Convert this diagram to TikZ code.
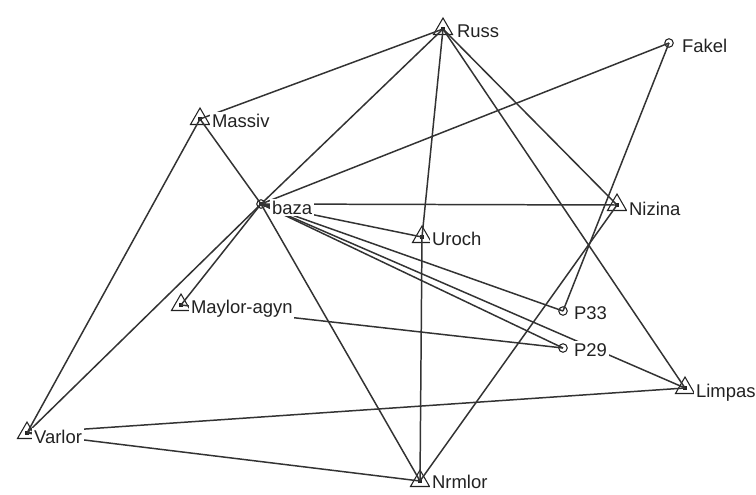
\documentclass[tikz,border=0pt]{standalone}
\usepackage{fontspec}
\setmainfont{Liberation Sans}
\definecolor{grInk}{HTML}{222222}
\definecolor{grLine}{HTML}{333333}
\usetikzlibrary{shapes.geometric}

\begin{document}
\begin{tikzpicture}[
  x=0.02cm,y=0.02cm,
  font=\fontsize{10.5}{12}\selectfont,
  tri/.style={draw=grInk,line width=0.6pt,regular polygon,regular polygon sides=3,
              inner sep=0pt,minimum size=4.4mm},
  ring/.style={draw=grInk,line width=0.6pt,circle,inner sep=0pt,minimum size=1.7mm},
  link/.style={draw=grLine,line width=0.85pt},
  tag/.style={anchor=base west,fill=white,inner sep=1pt,text=grInk}
]
\useasboundingbox (0,0) rectangle (756,-494);
% sites
\node[tri] (russ) at (443,-29) {};
\node[ring] (fakel) at (669,-43) {};
\node[tri] (massiv) at (200,-119) {};
\node[ring] (baza) at (261,-204) {};
\node[tri] (nizina) at (617,-205) {};
\node[tri] (uroch) at (422,-237) {};
\node[tri] (maylor) at (181,-305) {};
\node[ring] (p33) at (563,-311) {};
\node[ring] (p29) at (563,-348) {};
\node[tri] (limpas) at (685,-388) {};
\node[tri] (varlor) at (27,-433) {};
\node[tri] (nrmlor) at (420,-481) {};
\foreach \s in {russ,massiv,baza,nizina,uroch,maylor,limpas,varlor,nrmlor}
  \fill[grInk] (\s.center) +(-1.7,-1.7) rectangle +(1.7,1.7);

% links
\draw[link] (russ.center) -- (massiv.center);
\draw[link] (russ.center) -- (baza.center);
\draw[link] (russ.center) -- (uroch.center);
\draw[link] (russ.center) -- (nizina.center);
\draw[link] (russ.center) -- (limpas.center);
\draw[link] (massiv.center) -- (varlor.center);
\draw[link] (massiv.center) -- (baza.center);
\draw[link] (baza.center) -- (nrmlor.center);
\draw[link] (baza.center) -- (fakel.center);
\draw[link] (baza.center) -- (nizina.center);
\draw[link] (baza.center) -- (uroch.center);
\draw[link] (baza.center) -- (p33.center);
\draw[link] (baza.center) -- (p29.center);
\draw[link] (baza.center) -- (limpas.center);
\draw[link] (baza.center) -- (maylor.center);
\draw[link] (baza.center) -- (varlor.center);
\draw[link] (maylor.center) -- (p29.center);
\draw[link] (uroch.center) -- (nrmlor.center);
\draw[link] (nizina.center) -- (nrmlor.center);
\draw[link] (fakel.center) -- (p33.center);
\draw[link] (varlor.center) -- (limpas.center);
\draw[link] (varlor.center) -- (nrmlor.center);

% names
\node[tag] (russ-t) at ([shift={(12,-8)}]russ.center) {Russ};
\node[tag] (fakel-t) at ([shift={(11,-9)}]fakel.center) {Fakel};
\node[tag] (massiv-t) at ([shift={(10,-8)}]massiv.center) {Massiv};
\node[tag] (baza-t) at ([shift={(9,-10)}]baza.center) {baza};
\node[tag] (nizina-t) at ([shift={(10,-10)}]nizina.center) {Nizina};
\node[tag] (uroch-t) at ([shift={(8,-8)}]uroch.center) {Uroch};
\node[tag] (maylor-t) at ([shift={(8,-8)}]maylor.center) {Maylor-agyn};
\node[tag] (p33-t) at ([shift={(9,-8)}]p33.center) {P33};
\node[tag] (p29-t) at ([shift={(9,-8)}]p29.center) {P29};
\node[tag] (limpas-t) at ([shift={(9,-9)}]limpas.center) {Limpas};
\node[tag] (varlor-t) at ([shift={(5,-10)}]varlor.center) {Varlor};
\node[tag] (nrmlor-t) at ([shift={(10,-7)}]nrmlor.center) {Nrmlor};
\end{tikzpicture}
\end{document}
